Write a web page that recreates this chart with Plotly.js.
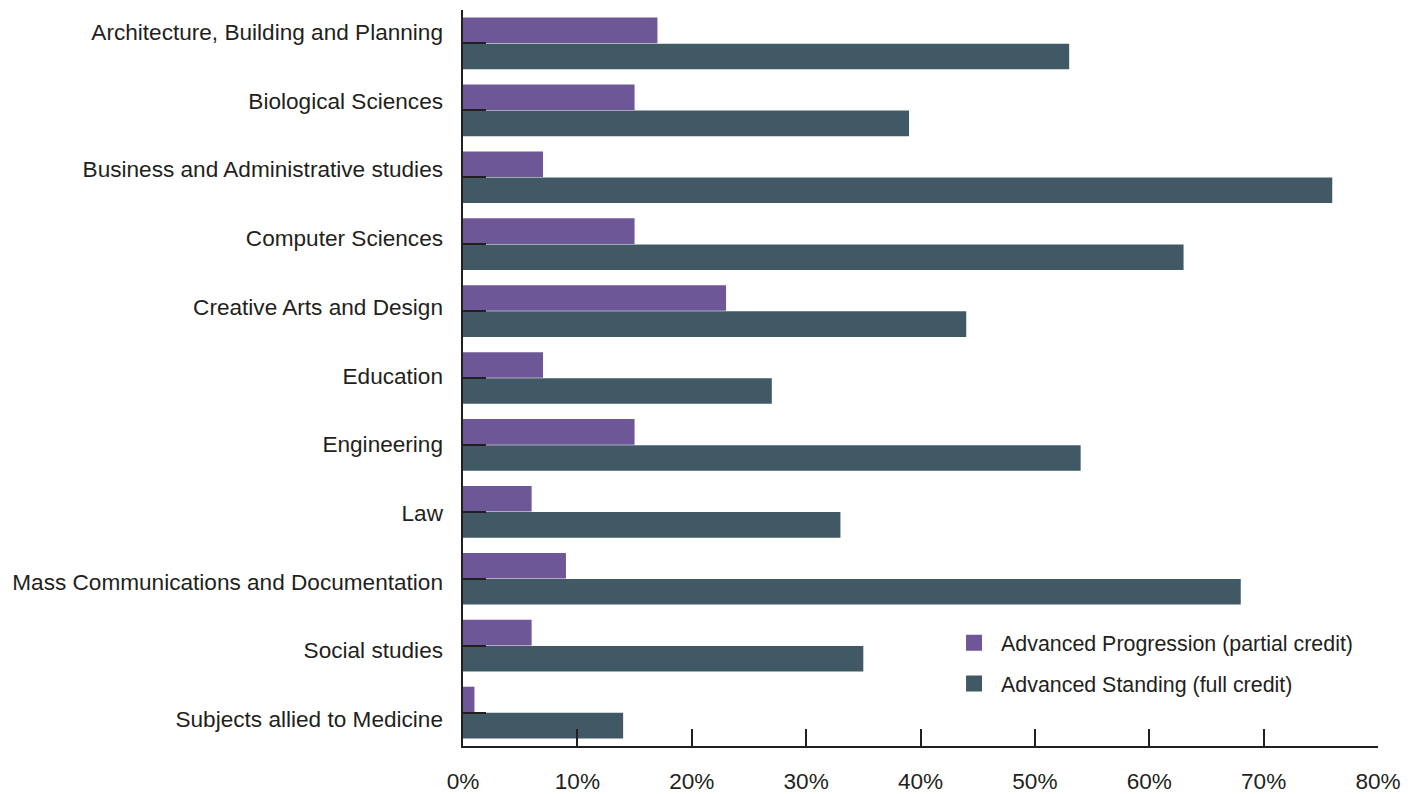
<!DOCTYPE html>
<html>
<head>
<meta charset="utf-8">
<script src="https://cdn.plot.ly/plotly-3.0.1.min.js"></script>
<style>html,body{margin:0;padding:0;background:#fff;}#chart{width:1413px;height:794px;}</style>
</head>
<body>
<div id="chart"></div>
<script>
const categories = [
  "Architecture, Building and Planning",
  "Biological Sciences",
  "Business and Administrative studies",
  "Computer Sciences",
  "Creative Arts and Design",
  "Education",
  "Engineering",
  "Law",
  "Mass Communications and Documentation",
  "Social studies",
  "Subjects allied to Medicine"
];
const seriesNames = ["Advanced Progression (partial credit)", "Advanced Standing (full credit)"];
const seriesColors = ["#6e5796", "#415865"];
const progression = [17, 15, 7, 15, 23, 7, 15, 6, 9, 6, 1];
const standing = [53, 39, 76, 63, 44, 27, 54, 33, 68, 35, 14];
const xTickVals = [0, 10, 20, 30, 40, 50, 60, 70, 80];
const xTickText = ["0%", "10%", "20%", "30%", "40%", "50%", "60%", "70%", "80%"];
const labelIdx = categories.map((c, i) => i);

const FONT = "Liberation Sans, Arial, Helvetica, sans-serif";
const INK = "#231f20";

const traces = [
  {type: "bar", orientation: "h", name: seriesNames[0], x: progression, y: categories,
   marker: {color: seriesColors[0]}, showlegend: false},
  {type: "bar", orientation: "h", name: seriesNames[1], x: standing, y: categories,
   marker: {color: seriesColors[1]}, showlegend: false},
  // legend entries (square swatches)
  {type: "scatter", mode: "markers", name: seriesNames[0], x: [null], y: [null], yaxis: "y2",
   marker: {symbol: "square", size: 18, color: seriesColors[0]}, legendgroup: "a"},
  {type: "scatter", mode: "markers", name: seriesNames[1], x: [null], y: [null], yaxis: "y2",
   marker: {symbol: "square", size: 18, color: seriesColors[1]}, legendgroup: "b"}
];

const layout = {
  width: 1413, height: 794,
  margin: {l: 463, r: 35, t: 10, b: 48},
  paper_bgcolor: "#fff", plot_bgcolor: "#fff",
  font: {family: FONT, color: INK, size: 22.6},
  barmode: "group", bargap: 0.22, bargroupgap: 0.02,
  showlegend: true,
  legend: {x: 0.529, y: 0.168, xanchor: "left", yanchor: "top", itemwidth: 44,
           font: {size: 21.4, color: INK}, traceorder: "grouped", tracegroupgap: 10,
           bgcolor: "rgba(0,0,0,0)"},
  xaxis: {range: [0, 80], tickvals: xTickVals, ticktext: xTickText,
          showgrid: false, zeroline: false, showline: true, linecolor: INK, linewidth: 2,
          ticks: "inside", ticklen: 17, tickwidth: 2, tickcolor: INK,
          ticklabelstandoff: 14, tickfont: {size: 22.6, color: INK}, fixedrange: true},
  yaxis: {type: "category", categoryarray: categories, autorange: "reversed",
          showgrid: false, zeroline: false, showline: true, linecolor: INK, linewidth: 2,
          ticks: "inside", ticklen: 23, tickwidth: 2, tickcolor: INK,
          showticklabels: false, fixedrange: true},
  yaxis2: {overlaying: "y", side: "left", type: "linear", range: [10.392, -0.322],
           tickvals: labelIdx, ticktext: categories, showgrid: false, zeroline: false,
           showline: false, ticks: "", ticklabelstandoff: 19,
           tickfont: {size: 22.6, color: INK}, fixedrange: true}
};

Plotly.newPlot("chart", traces, layout, {displayModeBar: false, staticPlot: true});
</script>
</body>
</html>
